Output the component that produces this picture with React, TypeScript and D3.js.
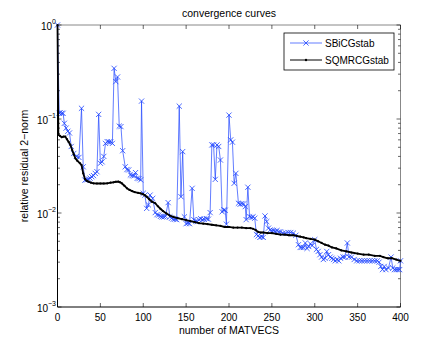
import React from 'react';
import * as d3 from 'd3';

// SBiCGstab (blue, x markers)
const bicgX = [0, 2, 3, 5, 6.5, 8, 10, 12, 14, 16, 19, 22, 25, 28, 30, 32, 34, 36, 38, 40, 42, 44, 46, 48, 50, 52, 54, 56, 58, 60, 62, 64, 66, 68, 70, 72, 74, 76, 79, 81, 83, 85, 87, 89, 91, 93, 95, 97, 98, 100, 102, 104, 106, 108, 111, 114, 116, 118, 120, 122, 124, 126, 129, 131, 133, 135, 137, 139, 142, 144, 146, 148, 150, 152, 154, 157, 159, 161, 163, 165, 167, 169, 171, 174, 176, 178, 180, 182, 184, 186, 188, 190, 192, 194, 195.5, 197, 200, 202, 204, 206, 208, 211, 213, 215, 217, 219, 220, 222, 224, 226, 228, 230, 232, 234, 236, 238, 240, 242, 244, 246, 248, 250, 252, 254, 256, 258, 260, 263, 266, 269, 272, 275, 278, 281, 283, 285, 287, 289, 291, 293, 295, 297, 300, 302, 304, 306, 308, 310, 312, 314, 316, 318, 320, 322, 324, 326, 328, 330, 333, 335, 338, 340, 343, 346, 349, 352, 355, 358, 361, 364, 367, 370, 373, 375, 377, 379, 381, 383, 386, 389, 391, 393, 395, 397, 399, 400];
const bicgY = [1.0, 0.115, 0.117, 0.115, 0.115, 0.09, 0.08, 0.074, 0.071, 0.051, 0.043, 0.04, 0.039, 0.13, 0.031, 0.0224, 0.0225, 0.023, 0.0235, 0.0243, 0.025, 0.0264, 0.0275, 0.112, 0.0338, 0.035, 0.04, 0.055, 0.0574, 0.057, 0.057, 0.055, 0.346, 0.25, 0.28, 0.084, 0.083, 0.046, 0.031, 0.029, 0.0287, 0.0254, 0.025, 0.0248, 0.0269, 0.0234, 0.0232, 0.0225, 0.155, 0.0162, 0.0155, 0.0112, 0.0122, 0.0155, 0.0143, 0.0101, 0.0096, 0.0095, 0.0092, 0.0091, 0.0091, 0.0092, 0.0129, 0.0091, 0.0088, 0.0086, 0.0086, 0.0085, 0.137, 0.0149, 0.045, 0.0091, 0.0077, 0.0078, 0.0077, 0.0183, 0.0085, 0.0082, 0.0081, 0.0085, 0.0087, 0.0085, 0.0086, 0.0087, 0.0086, 0.0101, 0.053, 0.053, 0.0228, 0.053, 0.051, 0.0366, 0.0103, 0.0108, 0.0107, 0.0076, 0.11, 0.06, 0.0567, 0.0207, 0.0264, 0.0127, 0.0124, 0.0126, 0.0125, 0.0117, 0.0085, 0.0188, 0.0091, 0.009, 0.0091, 0.0088, 0.0059, 0.0057, 0.0055, 0.0056, 0.0055, 0.0093, 0.0081, 0.0069, 0.0066, 0.0065, 0.0065, 0.0064, 0.0065, 0.0063, 0.0063, 0.0061, 0.0061, 0.0062, 0.0062, 0.0061, 0.0058, 0.0046, 0.0043, 0.0043, 0.0043, 0.0048, 0.0042, 0.0044, 0.0047, 0.0045, 0.0052, 0.0041, 0.0039, 0.0036, 0.0034, 0.0032, 0.0033, 0.0039, 0.0036, 0.0034, 0.0033, 0.0032, 0.0031, 0.0032, 0.0031, 0.0033, 0.0034, 0.0034, 0.0048, 0.0034, 0.0034, 0.0032, 0.0031, 0.0031, 0.0031, 0.0031, 0.0031, 0.0031, 0.0031, 0.0031, 0.0031, 0.003, 0.0027, 0.0025, 0.0027, 0.0025, 0.0026, 0.0034, 0.0026, 0.0025, 0.0025, 0.0025, 0.0025, 0.0031];

// SQMRCGstab (black, dots)
const qmrX = [0, 1, 3, 5, 7, 9, 11, 13, 15, 17, 19, 21, 23, 26, 28, 30, 32, 34, 36, 39, 42, 46, 50, 54, 58, 62, 65, 68, 71, 73, 75, 78, 81, 84, 87, 90, 94, 97, 100, 102, 104, 107, 110, 114, 117, 120, 123, 127, 131, 135, 140, 145, 150, 155, 160, 165, 170, 175, 180, 185, 190, 195, 200, 205, 210, 215, 220, 225, 228, 231, 234, 237, 240, 245, 250, 255, 260, 265, 270, 275, 279, 283, 287, 290, 295, 300, 304, 308, 312, 316, 320, 325, 331, 337, 343, 350, 357, 363, 370, 376, 380, 385, 390, 395, 400];
const qmrY = [1.0, 0.068, 0.066, 0.064, 0.065, 0.065, 0.061, 0.057, 0.053, 0.047, 0.042, 0.038, 0.036, 0.034, 0.0324, 0.0264, 0.023, 0.022, 0.0216, 0.021, 0.0207, 0.0206, 0.0206, 0.0206, 0.0207, 0.021, 0.0212, 0.0215, 0.0216, 0.0212, 0.0207, 0.0195, 0.0183, 0.0176, 0.0171, 0.0167, 0.0164, 0.0162, 0.0158, 0.0154, 0.0149, 0.014, 0.0132, 0.0127, 0.0118, 0.0111, 0.0105, 0.0099, 0.0094, 0.0091, 0.0088, 0.0086, 0.0084, 0.0082, 0.008, 0.0078, 0.0077, 0.0076, 0.0075, 0.0074, 0.0073, 0.0071, 0.0071, 0.007, 0.007, 0.007, 0.0069, 0.0069, 0.0068, 0.0066, 0.0063, 0.0062, 0.0062, 0.0061, 0.0061, 0.006, 0.0059, 0.0059, 0.0058, 0.0058, 0.0057, 0.0056, 0.0055, 0.0054, 0.0053, 0.0052, 0.005, 0.0048, 0.0046, 0.0045, 0.0043, 0.0042, 0.004, 0.0039, 0.0038, 0.0037, 0.0036, 0.0036, 0.0035, 0.0035, 0.0034, 0.0033, 0.0033, 0.0032, 0.0031];

const xTicks = [0, 50, 100, 150, 200, 250, 300, 350, 400];
const yDecades = [1e-3, 1e-2, 1e-1, 1];
const yExponents = ['\u22123', '\u22122', '\u22121', '0'];
const legendNames = ['SBiCGstab', 'SQMRCGstab'];

const W = 443;
const H = 346;
const left = 57.5, right = 400.5, top = 25, bottom = 307;
const font = '"Liberation Sans", Arial, sans-serif';
const blue = '#1f45ff';

export default function App() {
  const x = d3.scaleLinear().domain([0, 400]).range([left, right]);
  const y = d3.scaleLog().domain([1e-3, 1]).range([bottom, top]);

  const bicgPath = d3.line<number>()
    .x((_, i) => x(bicgX[i]))
    .y(d => y(d))(bicgY) || '';
  const qmrPath = d3.line<number>()
    .x((_, i) => x(qmrX[i]))
    .y(d => y(d))(qmrY) || '';

  // minor ticks 2..9 in each decade
  const minor: number[] = [];
  yDecades.slice(0, 3).forEach(d => {
    for (let k = 2; k <= 9; k++) minor.push(d * k);
  });

  const cross = (cx: number, cy: number, s: number, key: string | number) => (
    <path key={key} d={`M${cx - s},${cy - s}L${cx + s},${cy + s}M${cx - s},${cy + s}L${cx + s},${cy - s}`}
      stroke={blue} strokeWidth={0.8} fill="none" />
  );

  return (
    <svg width={W} height={H} style={{ position: 'absolute', left: 0, top: 0, background: '#fff' }}
      fontFamily={font}>
      <rect x={0} y={0} width={W} height={H} fill="#fff" />
      <text x={(left + right) / 2} y={17} textAnchor="middle" fontSize={10.5}>convergence curves</text>

      <line x1={left} x2={right} y1={top} y2={top} stroke="#888" strokeWidth={1} />
      <line x1={right} x2={right} y1={top} y2={bottom} stroke="#888" strokeWidth={1} />

      {xTicks.map(t => (
        <g key={'xt' + t}>
          <line x1={x(t)} x2={x(t)} y1={bottom} y2={bottom - 4} stroke="#000" strokeWidth={0.6} />
          <line x1={x(t)} x2={x(t)} y1={top} y2={top + 4} stroke="#000" strokeWidth={0.6} />
          <text x={x(t)} y={321} textAnchor="middle" fontSize={10}>{t}</text>
        </g>
      ))}

      {yDecades.map((d, i) => (
        <g key={'yt' + i}>
          <line x1={left} x2={left + 4} y1={y(d)} y2={y(d)} stroke="#000" strokeWidth={0.6} />
          <line x1={right} x2={right - 4} y1={y(d)} y2={y(d)} stroke="#000" strokeWidth={0.6} />
          <text x={56} y={y(d) + 5} textAnchor="end" fontSize={10}>
            10<tspan dy={-6} fontSize={7}>{yExponents[i]}</tspan>
          </text>
        </g>
      ))}
      {minor.map((m, i) => (
        <g key={'ym' + i}>
          <line x1={left} x2={left + 2.5} y1={y(m)} y2={y(m)} stroke="#000" strokeWidth={0.6} />
          <line x1={right} x2={right - 2.5} y1={y(m)} y2={y(m)} stroke="#000" strokeWidth={0.6} />
        </g>
      ))}

      <path d={bicgPath} fill="none" stroke={blue} strokeWidth={0.7} />
      {bicgY.map((v, i) => cross(x(bicgX[i]), y(v), 2.6, 'b' + i))}
      <path d={qmrPath} fill="none" stroke="#000" strokeWidth={1.8} />
      {qmrY.map((v, i) => (
        <circle key={'q' + i} cx={x(qmrX[i])} cy={y(v)} r={1.1} fill="#000" />
      ))}

      <line x1={left} x2={left} y1={top} y2={bottom} stroke="#000" strokeWidth={1} />
      <line x1={left} x2={right} y1={bottom} y2={bottom} stroke="#000" strokeWidth={1} />

      <text x={(left + right) / 2} y={334} textAnchor="middle" fontSize={10.5}>number of MATVECS</text>
      <text transform={`translate(28,${(top + bottom) / 2}) rotate(-90)`} textAnchor="middle" fontSize={10.5}>
        relative residual 2{'\u2212'}norm
      </text>

      <rect x={284} y={33} width={110} height={37} fill="#fff" stroke="#000" strokeWidth={0.8} />
      <line x1={290} x2={322} y1={43} y2={43} stroke={blue} strokeWidth={0.7} />
      {cross(306, 43, 2.6, 'lg')}
      <text x={325} y={47} fontSize={10}>{legendNames[0]}</text>
      <line x1={290} x2={322} y1={60} y2={60} stroke="#000" strokeWidth={1} />
      <circle cx={306} cy={60} r={1.2} fill="#000" />
      <text x={325} y={64} fontSize={10}>{legendNames[1]}</text>
    </svg>
  );
}
